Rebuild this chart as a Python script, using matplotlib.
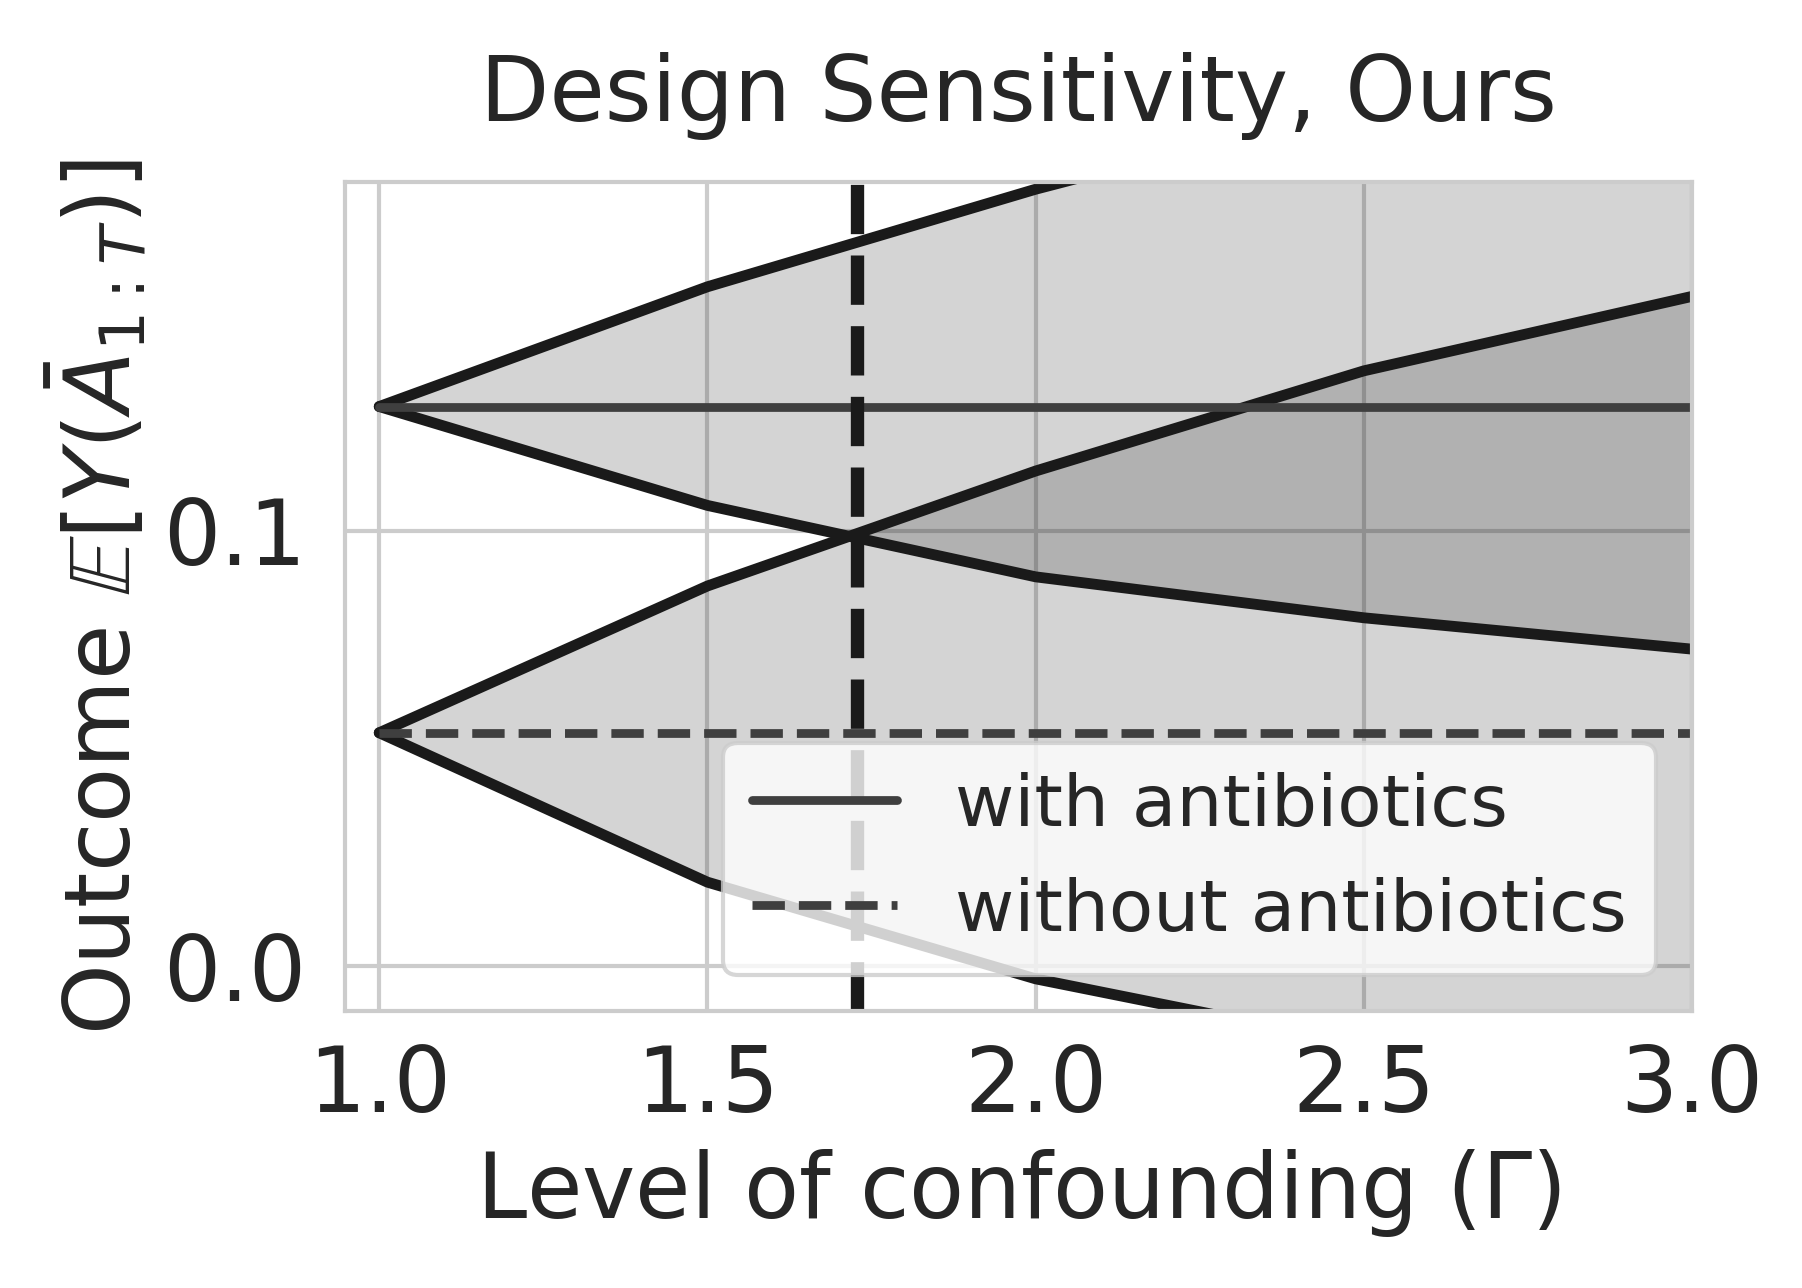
import numpy as np
import matplotlib
matplotlib.use("Agg")
import matplotlib.pyplot as plt
import seaborn as sns

# Level of confounding
gammas = [1.0, 1.5, 2.0, 2.5, 3.0]

# bounds of the outcome, with antibiotics
with_mean = 0.1285
with_upper = [0.1285, 0.156, 0.1784, 0.198, 0.215]
with_lower = [0.1285, 0.1058, 0.0894, 0.080, 0.0728]

# bounds of the outcome, without antibiotics
without_mean = 0.0536
without_upper = [0.0536, 0.0873, 0.1137, 0.1367, 0.1538]
without_lower = [0.0536, 0.0193, -0.0029, -0.018, -0.032]

gamma_star = 1.728   # where the two intervals start to overlap

sns.set_theme(style="whitegrid")
plt.rcParams['font.family'] = ['DejaVu Sans']

fig = plt.figure(figsize=(1802 / 300, 1288 / 300), dpi=300)
ax = fig.add_axes([0.1915, 0.215, 0.7475, 0.6435])

ax.fill_between(gammas, with_lower, with_upper, color='k', alpha=0.185, lw=0)
ax.fill_between(gammas, without_lower, without_upper, color='k', alpha=0.185, lw=0)

ax.plot(gammas, with_upper, color='#1a1a1a', lw=2.6)
ax.plot(gammas, with_lower, color='#1a1a1a', lw=2.6)
ax.plot(gammas, without_upper, color='#1a1a1a', lw=2.6)
ax.plot(gammas, without_lower, color='#1a1a1a', lw=2.6)

ax.plot(gammas, [with_mean] * len(gammas), color='#3f3f3f', lw=2.1,
        label='with antibiotics')
ax.plot(gammas, [without_mean] * len(gammas), color='#3f3f3f', lw=2.1, ls='--',
        label='without antibiotics')
ax.axvline(gamma_star, color='#1a1a1a', lw=3.2, ls='--')

ax.set_xlim(0.948, 3.0)
ax.set_ylim(-0.0103, 0.180)
ax.set_xticks([1.0, 1.5, 2.0, 2.5, 3.0])
ax.set_yticks([0.0, 0.1])
ax.tick_params(labelsize=21.6, colors='#262626')
ax.tick_params(axis='x', pad=1.6)
ax.tick_params(axis='y', pad=3.3)
ax.grid(lw=1.0)
for s in ax.spines.values():
    s.set_linewidth(1.0)

ax.set_title('Design Sensitivity, Ours', fontsize=21.6, color='#262626', pad=14.8)
ax.set_xlabel(r'Level of confounding ($\Gamma$)', fontsize=21.6, color='#262626')
ax.set_ylabel(r'Outcome $\mathbb{E}[Y(\bar{A}_{1:T})]$', fontsize=21.6,
              color='#262626', labelpad=3)

ax.legend(loc='lower right', fontsize=17.4)

fig.savefig('out.png', dpi=300)
